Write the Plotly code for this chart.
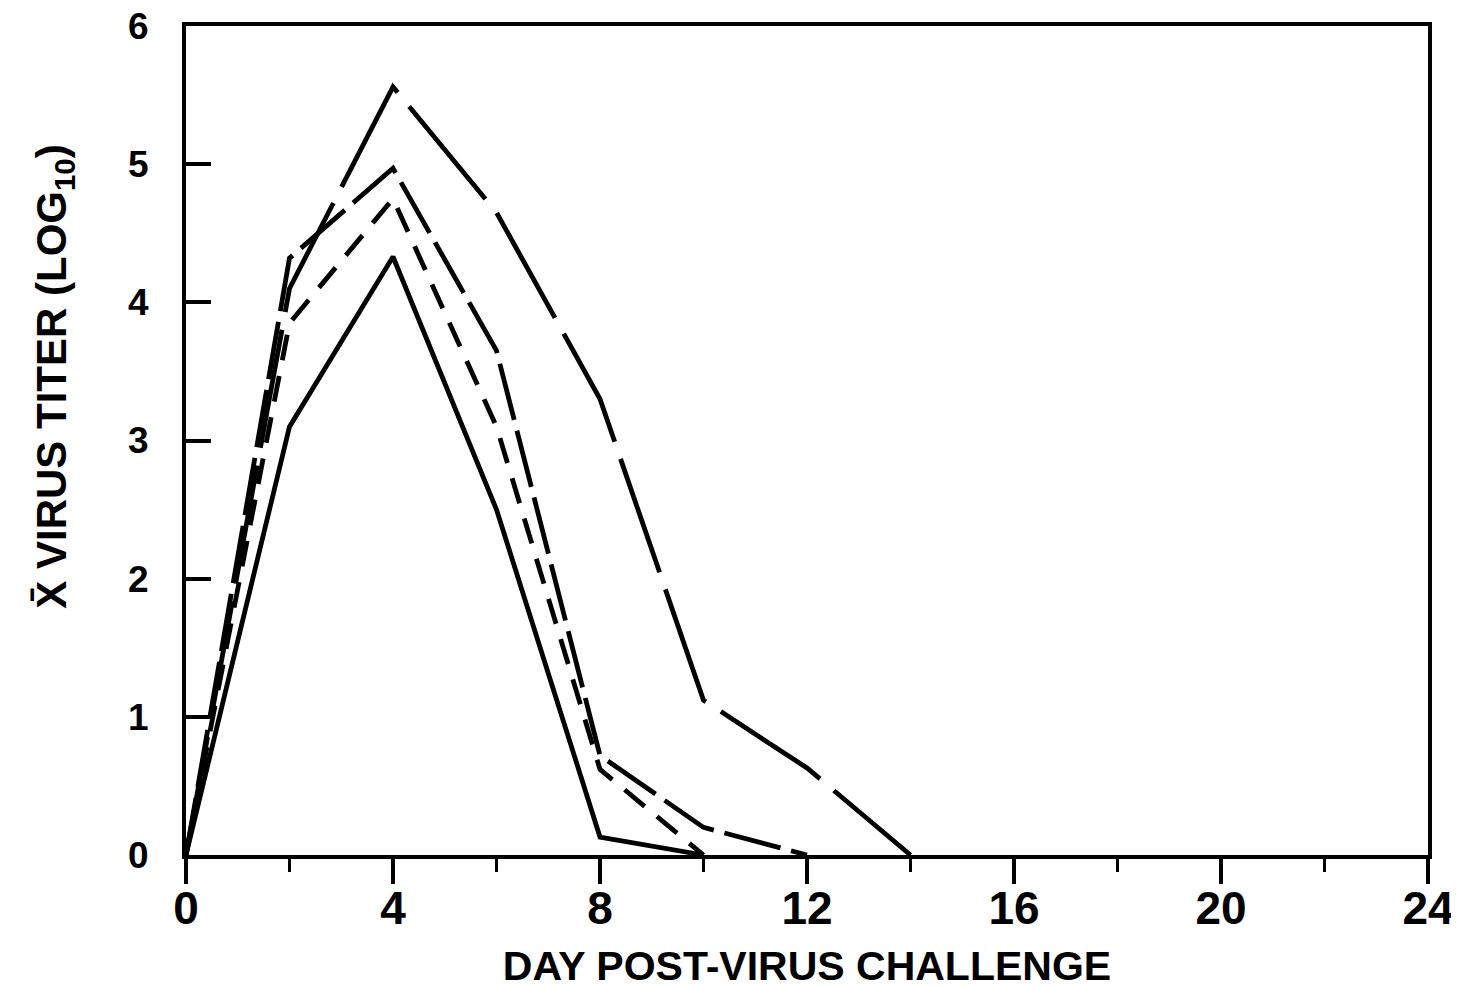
import plotly.graph_objects as go

days_solid = [0, 2, 4, 6, 8, 10]
titer_solid = [0, 3.1, 4.33, 2.5, 0.13, 0]

days_short = [0, 2, 4, 6, 8, 10]
titer_short = [0, 3.85, 4.75, 3.1, 0.62, 0]

days_medium = [0, 2, 4, 6, 8, 10, 12]
titer_medium = [0, 4.32, 4.97, 3.65, 0.72, 0.2, 0]

days_long = [0, 2, 4, 6, 8, 10, 12, 14]
titer_long = [0, 4.1, 5.56, 4.65, 3.3, 1.12, 0.63, 0]

x_ticks = [0, 4, 8, 12, 16, 20, 24]
y_ticks = [0, 1, 2, 3, 4, 5, 6]

FONT = "Liberation Sans, Arial, sans-serif"

fig = go.Figure()
series = [
    (days_solid, titer_solid, "solid"),
    (days_short, titer_short, "26px,16px"),
    (days_medium, titer_medium, "58px,11px"),
    (days_long, titer_long, "120px,18px"),
]
for xs, ys, dash in series:
    fig.add_trace(go.Scatter(x=xs, y=ys, mode="lines",
                             line=dict(color="black", width=4.8, dash=dash),
                             showlegend=False, cliponaxis=False))

fig.update_layout(
    width=1451, height=981,
    margin=dict(l=178, r=31, t=18, b=134),
    paper_bgcolor="white", plot_bgcolor="white",
    showlegend=False,
)
fig.update_xaxes(
    range=[0, 24], tickvals=x_ticks, ticktext=[str(v) for v in x_ticks],
    automargin=False, ticklabeloverflow="allow",
    showgrid=False, zeroline=False,
    showline=True, linecolor="black", linewidth=4, mirror=True,
    ticks="outside", ticklen=25, tickwidth=3.5, tickcolor="black",
    ticklabelstandoff=-15,
    minor=dict(dtick=2, tick0=0, ticks="outside", ticklen=13, tickwidth=3, tickcolor="black", showgrid=False),
    tickfont=dict(family=FONT, size=46, color="black", weight="bold"),
    title=dict(text="DAY POST-VIRUS CHALLENGE", standoff=20,
               font=dict(family=FONT, size=41, color="black", weight="bold")),
)
fig.update_yaxes(
    range=[0, 6], tickvals=y_ticks, ticktext=[str(v) for v in y_ticks],
    automargin=False, ticklabeloverflow="allow",
    showgrid=False, zeroline=False,
    showline=True, linecolor="black", linewidth=4, mirror=True,
    ticks="inside", ticklen=25, tickwidth=3.5, tickcolor="black",
    ticklabelstandoff=26,
    tickfont=dict(family=FONT, size=37, color="black", weight="bold"),
)

fig.add_annotation(
    text="X\u0304 VIRUS TITER (LOG<sub>10</sub>)",
    xref="paper", yref="paper", x=0, y=0.577,
    xanchor="center", yanchor="middle", xshift=-131,
    textangle=-90, showarrow=False,
    font=dict(family=FONT, size=42, color="black", weight="bold"),
)

fig.write_html("out.html")
